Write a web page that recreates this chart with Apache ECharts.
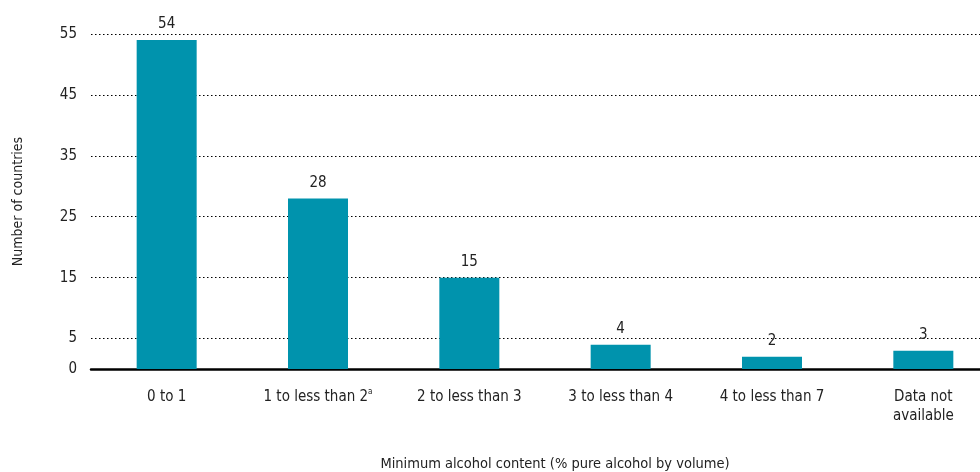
<!DOCTYPE html>
<html><head><meta charset="utf-8">
<script src="https://cdn.jsdelivr.net/npm/echarts@6/dist/echarts.min.js"></script>
<style>html,body{margin:0;padding:0;background:#fff}#c{width:980px;height:472px}</style>
</head><body><div id="c"></div>
<script>
const categories = ['0 to 1', '1 to less than 2{sup|a}', '2 to less than 3', '3 to less than 4', '4 to less than 7', 'Data not\navailable'];
const values = [54, 28, 15, 4, 2, 3];
const yTicks = [0, 5, 15, 25, 35, 45, 55];
const gridTicks = [5, 15, 25, 35, 45, 55];
const FONT = '"Liberation Sans Narrow", "DejaVu Sans Condensed", sans-serif';

const chart = echarts.init(document.getElementById('c'));
chart.setOption({
  animation: false,
  textStyle: { fontFamily: FONT },
  grid: { left: 91, width: 908, top: 34, bottom: 103, containLabel: false, outerBoundsMode: 'none' },
  xAxis: {
    type: 'category',
    data: categories,
    name: 'Minimum alcohol content (% pure alcohol by volume)',
    nameLocation: 'middle',
    nameGap: 88,
    nameTextStyle: { fontFamily: FONT, fontSize: 14.5, color: '#222', padding: [0, 0, 0, 20] },
    axisLine: { lineStyle: { color: '#000', width: 2.5 } },
    axisTick: { show: false },
    axisLabel: {
      interval: 0,
      margin: 19, fontFamily: FONT, fontSize: 15, color: '#222', lineHeight: 19,
      rich: { sup: { fontSize: 8, verticalAlign: 'top', padding: [0, 0, 8, 0], fontFamily: FONT, color: '#222' } }
    }
  },
  yAxis: {
    type: 'value', min: 0, max: 55, interval: 5,
    name: 'Number of countries', nameLocation: 'middle', nameGap: 66,
    nameTextStyle: { fontFamily: FONT, fontSize: 14, color: '#222' },
    axisLine: { show: false }, axisTick: { show: false },
    splitLine: { show: false },
    axisLabel: {
      margin: 14, fontFamily: FONT, fontSize: 15, color: '#222',
      formatter: v => yTicks.includes(v) ? String(v) : ''
    }
  },
  series: [{
    type: 'bar',
    data: values,
    barWidth: 60,
    itemStyle: { color: '#0093ad' },
    label: { show: true, position: 'top', distance: 8, fontFamily: FONT, fontSize: 15, color: '#222' },
    markLine: {
      silent: true, symbol: 'none', label: { show: false },
      lineStyle: { type: [1.5, 2.5], color: '#000', width: 1 },
      data: gridTicks.map(v => ({ yAxis: v })),
      z: 1
    },
    z: 3
  }]
});
</script></body></html>
